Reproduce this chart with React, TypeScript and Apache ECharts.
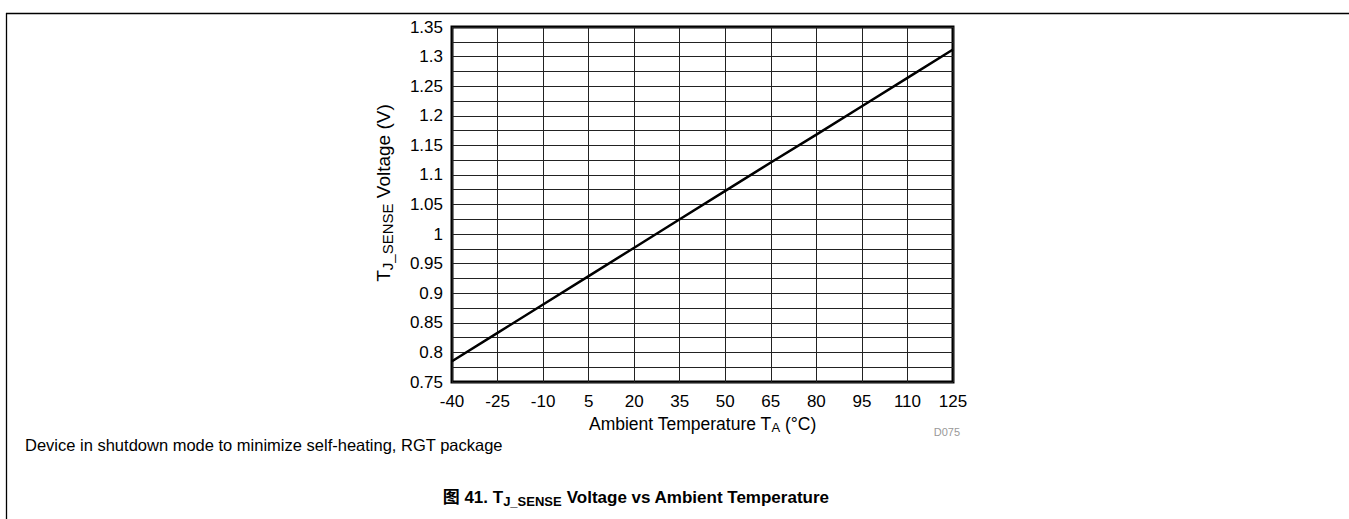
import React, { useEffect, useRef } from "react";
import * as echarts from "echarts";

const temperatures = ["-40", "-25", "-10", "5", "20", "35", "50", "65", "80", "95", "110", "125"];
const voltages = [0.785, 0.833, 0.881, 0.929, 0.977, 1.025, 1.073, 1.121, 1.168, 1.216, 1.264, 1.312];
const yMin = 0.75;
const yMax = 1.35;
const yStep = 0.05;

const FONT = "'Liberation Sans', Arial, 'Noto Sans CJK SC', sans-serif";

export default function App() {
  const ref = useRef<HTMLDivElement>(null);
  useEffect(() => {
    if (!ref.current) return;
    const chart = echarts.init(ref.current, undefined, { renderer: "svg" });
    chart.setOption({
      animation: false,
      textStyle: { fontFamily: FONT },
      grid: {
        left: 452,
        top: 27,
        right: 396,
        bottom: 137,
        show: true,
        borderColor: "#000",
        borderWidth: 3,
        backgroundColor: "transparent",
      },
      xAxis: {
        type: "category",
        data: temperatures,
        boundaryGap: false,
        axisLine: { show: false },
        axisTick: { show: false },
        axisLabel: { color: "#000", fontSize: 17, margin: 11, fontFamily: FONT },
        splitLine: { show: true, lineStyle: { color: "#222", width: 1 } },
        name: "Ambient Temperature T{sub|A} (°C)",
        nameLocation: "middle",
        nameGap: 29,
        nameTextStyle: {
          color: "#000",
          fontSize: 17.5,
          fontFamily: FONT,
          rich: { sub: { fontSize: 13, padding: [8, 0, 0, 0], fontFamily: FONT, color: "#000" } },
        },
      },
      yAxis: {
        type: "value",
        min: yMin,
        max: yMax,
        interval: yStep,
        axisLine: { show: false },
        axisTick: { show: false },
        axisLabel: {
          color: "#000",
          fontSize: 17,
          margin: 9,
          fontFamily: FONT,
          formatter: (v: number) => String(parseFloat(v.toFixed(3))),
        },
        splitLine: { show: true, lineStyle: { color: "#222", width: 1 } },
        minorTick: { show: false, splitNumber: 2 },
        minorSplitLine: { show: true, lineStyle: { color: "#222", width: 1 } },
      },
      series: [
        {
          type: "line",
          data: voltages,
          showSymbol: false,
          lineStyle: { color: "#000", width: 2.5 },
          z: 5,
        },
      ],
      graphic: [
        { type: "line", shape: { x1: 6, y1: 13.5, x2: 1349, y2: 13.5 }, style: { stroke: "#000", lineWidth: 1.3 } },
        { type: "line", shape: { x1: 6.5, y1: 13, x2: 6.5, y2: 519 }, style: { stroke: "#000", lineWidth: 1.3 } },
        {
          type: "text",
          x: 383,
          y: 193,
          rotation: Math.PI / 2,
          style: {
            text: "{n|T}{s|J_SENSE}{n| Voltage (V)}",
            align: "center",
            verticalAlign: "middle",
            rich: {
              n: { fontSize: 19, fontFamily: FONT, fill: "#000" },
              s: { fontSize: 15, fontFamily: FONT, fill: "#000", padding: [9, 0, 0, 0] },
            },
          },
        },
        {
          type: "text",
          x: 960,
          y: 432,
          style: { text: "D075", fill: "#999", fontSize: 11, fontFamily: FONT, align: "right", verticalAlign: "middle" },
        },
        {
          type: "text",
          x: 25,
          y: 445,
          style: {
            text: "Device in shutdown mode to minimize self-heating, RGT package",
            fill: "#000",
            fontSize: 16.5,
            fontFamily: FONT,
            verticalAlign: "middle",
          },
        },
        {
          type: "text",
          x: 636,
          y: 497,
          style: {
            text: "{b|图 41. T}{s|J_SENSE}{b| Voltage vs Ambient Temperature}",
            align: "center",
            verticalAlign: "middle",
            rich: {
              b: { fontSize: 17, fontWeight: "bold", fontFamily: FONT, fill: "#000" },
              s: { fontSize: 13, fontWeight: "bold", fontFamily: FONT, fill: "#000", padding: [8, 0, 0, 0] },
            },
          },
        },
      ],
    });
    return () => chart.dispose();
  }, []);
  return (
    <div
      ref={ref}
      style={{ position: "fixed", left: 0, top: 0, width: 1349, height: 519, background: "#fff" }}
    />
  );
}
